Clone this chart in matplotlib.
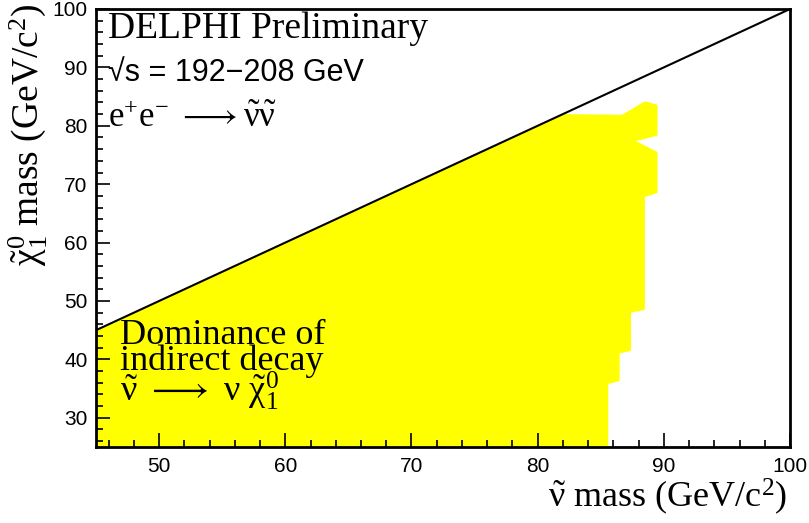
import numpy as np
import matplotlib
matplotlib.use('Agg')
import matplotlib.pyplot as plt
from matplotlib.ticker import MultipleLocator

# Outline of the excluded region (sneutrino mass, neutralino mass) in GeV/c^2
region_x = [45.0, 45.0, 82.0, 86.7, 88.5, 89.5, 89.5, 87.8, 89.5, 89.5, 88.5,
            88.5, 87.4, 87.4, 86.5, 86.5, 85.6, 85.6]
region_y = [25.0, 45.0, 82.0, 81.9, 84.2, 83.6, 78.3, 77.4, 75.5, 68.5, 67.8,
            48.5, 48.0, 41.5, 41.0, 36.3, 35.8, 25.0]

# Kinematic limit m(chi) = m(snu)
limit_x = [45, 100]
limit_y = [45, 100]

xticks = [50, 60, 70, 80, 90, 100]
yticks = [30, 40, 50, 60, 70, 80, 90, 100]

serif = 'Liberation Serif'
sans = 'Liberation Sans'
# upright Times-like math (ROOT style greek)
plt.rcParams['mathtext.fontset'] = 'custom'
plt.rcParams['mathtext.rm'] = serif
plt.rcParams['mathtext.it'] = serif
plt.rcParams['mathtext.bf'] = serif + ':bold'
plt.rcParams['mathtext.fallback'] = 'stix'

fig = plt.figure(figsize=(8.09, 5.23), dpi=100)
ax = fig.add_axes([96 / 809, 1 - 447 / 523, 694 / 809, 438 / 523])

ax.fill(region_x, region_y, color='#ffff00', lw=0, zorder=1)
ax.plot(limit_x, limit_y, color='black', lw=1.5, zorder=2)

ax.set_xlim(45, 100)
ax.set_ylim(25, 100)
ax.set_xticks(xticks)
ax.set_yticks(yticks)
ax.xaxis.set_minor_locator(MultipleLocator(2))
ax.yaxis.set_minor_locator(MultipleLocator(2))
ax.tick_params(which='both', direction='in', top=False, right=False,
               width=1.2, labelsize=15)
ax.tick_params(axis='x', which='major', pad=7)
ax.tick_params(axis='y', which='major', pad=6)
ax.tick_params(which='major', length=10)
ax.tick_params(which='minor', length=5)
for lab in ax.get_xticklabels() + ax.get_yticklabels():
    lab.set_fontfamily(sans)
for sp in ax.spines.values():
    sp.set_linewidth(2)

# Header texts
ax.text(0.018, 0.955, 'DELPHI Preliminary', transform=ax.transAxes,
        fontsize=27, family=serif, va='center', ha='left')
ax.text(0.018, 0.855, '\u221as = 192\u2212208 GeV', transform=ax.transAxes,
        fontsize=22, family=sans, va='center', ha='left')
ax.text(0.018, 0.75, r'e$^{+}$e$^{-}\ \longrightarrow\tilde{\nu}\tilde{\nu}$',
        transform=ax.transAxes, fontsize=25, family=serif, va='center', ha='left')

# Region label (one block, tight line spacing as in the original)
ax.text(46.9, 32.9, 'Dominance of\nindirect decay\n'
        r'$\tilde{\nu}\ \longrightarrow\ \nu\ \tilde{\chi}_1^0$',
        fontsize=26, family=serif, va='baseline', ha='left',
        linespacing=0.72)

# Axis titles
fig.text(787 / 809, 1 - 497 / 523, r'$\tilde{\nu}$ mass (GeV/c$^{2}$)',
         fontsize=26, family=serif, ha='right', va='center')
fig.text(28 / 809, 1 - 4 / 523, r'$\tilde{\chi}_1^0$ mass (GeV/c$^{2}$)',
         fontsize=27, family=serif, ha='center', va='top', rotation=90)

fig.savefig('out.png', dpi=100)
plt.close(fig)
